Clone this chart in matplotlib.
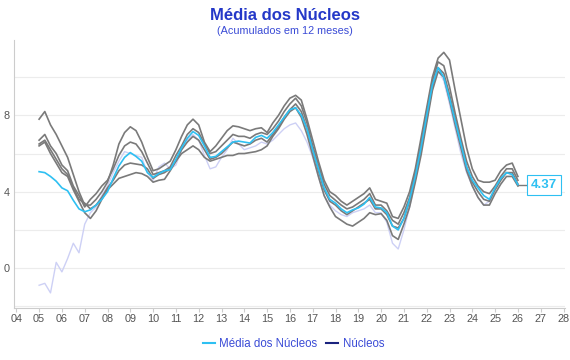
import numpy as np
import matplotlib
matplotlib.use("Agg")
import matplotlib.pyplot as plt

plt.rcParams["font.family"] = ["Liberation Sans", "DejaVu Sans"]

# quarterly dates, 2005.00 .. 2026.00
dates = np.arange(2005.0, 2026.001, 0.25)

media = [5.05, 5.0, 4.8, 4.55, 4.2, 4.05, 3.55, 3.1, 2.95, 3.05, 3.3, 3.6,
         4.0, 4.7, 5.35, 5.8, 6.05, 5.85, 5.6, 5.0, 4.75, 4.95, 5.1, 5.15,
         5.7, 6.3, 6.8, 7.15, 6.95, 6.4, 5.8, 5.85, 6.1, 6.35, 6.6, 6.65,
         6.6, 6.55, 6.85, 6.95, 6.8, 7.1, 7.5, 7.9, 8.3, 8.4, 8.0, 7.3,
         6.2, 5.2, 4.2, 3.6, 3.4, 3.1, 2.9, 3.05, 3.15, 3.35, 3.7, 3.2,
         3.15, 2.9, 2.2, 2.0, 2.6, 3.6, 4.8, 6.3, 8.0, 9.6, 10.5, 10.0,
         8.9, 7.7, 6.5, 5.3, 4.6, 4.2, 3.8, 3.6, 4.2, 4.7, 5.0, 4.9, 4.37]

lavanda = [-0.9, -0.8, -1.3, 0.3, -0.2, 0.5, 1.3, 0.8, 2.3, 2.9, 3.2, 3.8,
           4.3, 5.0, 5.6, 6.1, 6.0, 5.9, 5.8, 5.0, 4.6, 5.3, 5.5, 5.2,
           5.4, 6.2, 6.7, 7.0, 6.7, 5.9, 5.2, 5.3, 5.8, 6.2, 6.8, 6.5,
           6.2, 6.3, 6.4, 6.6, 6.5, 6.7, 7.0, 7.3, 7.5, 7.6, 7.2, 6.6,
           5.8, 4.8, 3.8, 3.3, 3.0, 2.8, 2.7, 2.9, 3.0, 3.1, 3.3, 2.9,
           2.9, 2.4, 1.3, 1.0, 2.0, 3.2, 4.6, 6.2, 7.9, 9.5, 10.4, 9.8,
           8.6, 7.3, 6.0, 5.0, 4.3, 3.7, 3.3, 3.5, 4.2, 4.7, 5.0, 4.9, 4.4]

nucleo_a = [7.8, 8.2, 7.5, 7.0, 6.4, 5.8, 4.9, 4.0, 3.3, 3.3, 3.6, 4.0,
            4.5, 5.4, 6.5, 7.1, 7.4, 7.2, 6.6, 5.8, 5.1, 5.2, 5.4, 5.6,
            6.2, 6.9, 7.5, 7.8, 7.5, 6.6, 6.1, 6.4, 6.8, 7.2, 7.45, 7.4,
            7.3, 7.2, 7.3, 7.35, 7.1, 7.6, 8.0, 8.5, 8.9, 9.05, 8.8, 7.8,
            6.7, 5.6, 4.6, 4.0, 3.8, 3.5, 3.3, 3.5, 3.7, 3.9, 4.2, 3.6,
            3.5, 3.4, 2.7, 2.6, 3.2, 4.0, 5.2, 6.8, 8.4, 10.0, 11.0, 11.3,
            10.9, 9.3, 7.8, 6.3, 5.2, 4.6, 4.5, 4.5, 4.6, 5.1, 5.4, 5.5, 4.8]

nucleo_b = [6.7, 7.0, 6.4, 6.0, 5.4, 5.1, 4.3, 3.8, 3.2, 3.6, 3.9, 4.3,
            4.6, 5.2, 5.9, 6.4, 6.6, 6.5, 6.1, 5.5, 4.9, 5.0, 5.1, 5.3,
            5.9, 6.4, 7.0, 7.3, 7.1, 6.5, 6.0, 6.1, 6.4, 6.7, 7.0, 6.9,
            6.9, 6.8, 7.0, 7.1, 7.0, 7.3, 7.7, 8.2, 8.6, 8.9, 8.5, 7.6,
            6.4, 5.4, 4.4, 3.8, 3.55, 3.3, 3.1, 3.2, 3.4, 3.6, 3.9, 3.3,
            3.3, 3.0, 2.5, 2.3, 2.9, 3.7, 5.0, 6.5, 8.2, 9.8, 10.8, 10.6,
            9.5, 8.1, 6.8, 5.6, 4.8, 4.3, 4.0, 3.9, 4.3, 4.8, 5.2, 5.2, 4.6]

nucleo_c = [6.5, 6.7, 6.2, 5.7, 5.2, 4.9, 4.2, 3.6, 3.4, 3.1, 3.3, 3.7,
            4.2, 4.6, 5.1, 5.4, 5.5, 5.45, 5.4, 5.2, 4.7, 4.9, 5.0, 5.2,
            5.6, 6.2, 6.6, 6.9, 6.7, 6.2, 5.7, 5.8, 6.0, 6.3, 6.6, 6.5,
            6.4, 6.5, 6.7, 6.8, 6.6, 7.0, 7.4, 7.9, 8.3, 8.6, 8.2, 7.3,
            6.2, 5.1, 4.1, 3.5, 3.3, 3.0, 2.8, 3.0, 3.2, 3.4, 3.6, 3.1,
            3.1, 2.8, 2.2, 2.1, 2.6, 3.5, 4.7, 6.2, 7.8, 9.5, 10.5, 10.2,
            9.1, 7.8, 6.5, 5.3, 4.5, 4.0, 3.6, 3.5, 4.1, 4.6, 5.0, 5.0, 4.4]

nucleo_d = [6.4, 6.6, 6.0, 5.5, 5.0, 4.8, 4.1, 3.5, 2.9, 2.6, 3.0, 3.6,
            4.1, 4.4, 4.7, 4.8, 4.9, 5.0, 4.95, 4.8, 4.5, 4.6, 4.65, 5.1,
            5.6, 6.0, 6.2, 6.4, 6.2, 5.8, 5.6, 5.7, 5.8, 5.9, 5.9, 6.0,
            6.0, 6.05, 6.1, 6.2, 6.4, 6.9, 7.3, 7.8, 8.2, 8.4, 7.9, 7.0,
            5.9, 4.8, 3.8, 3.2, 2.7, 2.5, 2.3, 2.2, 2.4, 2.6, 2.9, 2.8,
            2.85, 2.5, 1.7, 1.5, 2.3, 3.2, 4.5, 5.9, 7.6, 9.3, 10.3, 10.0,
            8.8, 7.5, 6.3, 5.1, 4.3, 3.7, 3.3, 3.3, 3.9, 4.4, 4.8, 4.8, 4.3]

nucleos = [nucleo_a, nucleo_b, nucleo_c, nucleo_d]
year_labels = ["%02d" % (y % 100) for y in range(2004, 2029)]

fig = plt.figure(figsize=(5.7, 3.6), dpi=100)
ax = fig.add_axes([0.0246, 0.144, 0.966, 0.745])

ax.plot(dates, lavanda, color="#cdd0f5", lw=1.0, zorder=2)
for s in nucleos:
    ax.plot(dates, s, color="#7a7a7a", lw=1.2, zorder=3)
ax.plot(dates, media, color="#2ec0f2", lw=1.2, zorder=4)

ax.set_xlim(2003.9, 2028.05)
ax.set_ylim(-2.1, 11.95)
ax.set_yticks([-2, 0, 2, 4, 6, 8, 10])
ax.set_yticklabels(["", "0", "", "4", "", "8", ""])
ax.set_xticks(range(2004, 2029))
ax.set_xticklabels(year_labels)
ax.tick_params(axis="y", length=0, pad=3, labelsize=7.8, labelcolor="#555555")
ax.tick_params(axis="x", length=3, color="#cccccc", pad=1, labelsize=7.8, labelcolor="#555555")
ax.grid(axis="y", color="#ececec", lw=0.8)
ax.set_axisbelow(True)
for side in ["top", "right"]:
    ax.spines[side].set_visible(False)
ax.spines["left"].set_color("#cccccc")
ax.spines["bottom"].set_color("#cccccc")

# end label
last_x, last_y = dates[-1], media[-1]
ax.plot([last_x, last_x + 0.45], [last_y, last_y], color="#7a7a7a", lw=1.0, zorder=3)
ax.annotate("%.2f" % last_y, xy=(last_x + 0.45, last_y), xytext=(2, 0),
            textcoords="offset points", ha="left", va="center",
            fontsize=9.5, fontweight="bold", color="#2ec0f2",
            bbox=dict(boxstyle="square,pad=0.3", fc="white", ec="#2ec0f2", lw=0.8),
            annotation_clip=False, zorder=6)

fig.text(0.5, 0.958, "Média dos Núcleos", ha="center", va="center",
         fontsize=12, fontweight="bold", color="#2438c8")
fig.text(0.5, 0.915, "(Acumulados em 12 meses)", ha="center", va="center",
         fontsize=7.8, color="#3a4bd6")

h1, = ax.plot([], [], color="#2ec0f2", lw=1.5)
h2, = ax.plot([], [], color="#1a237e", lw=1.5)
leg = fig.legend([h1, h2], ["Média dos Núcleos", "Núcleos"], loc="center",
                 bbox_to_anchor=(0.515, 0.045), ncol=2, frameon=False,
                 fontsize=8.3, handlelength=1.0, handletextpad=0.4, columnspacing=0.8)
for t in leg.get_texts():
    t.set_color("#3a4bd6")

fig.savefig("out.png", dpi=100)
